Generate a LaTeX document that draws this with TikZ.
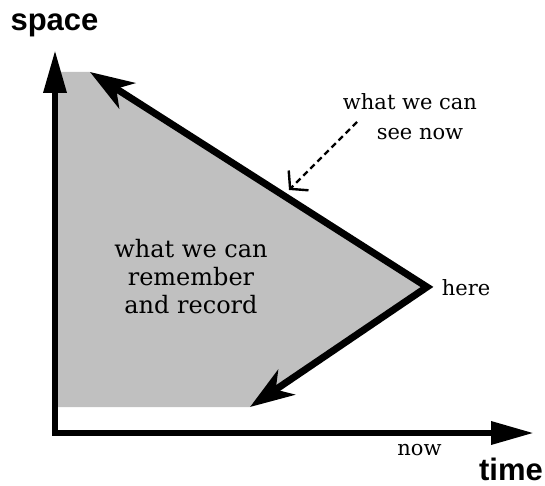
\documentclass[tikz,border=0pt]{standalone}
\usepackage{fontspec}
\setmainfont{DejaVu Serif}
\setsansfont{Liberation Sans}
\usetikzlibrary{arrows.meta}
\definecolor{regiongray}{RGB}{192,192,192}
\tikzset{
  axisline/.style={line width=6.5pt, line join=miter,
    {Triangle[length=43pt,width=22pt]}-{Triangle[length=43pt,width=22pt]}},
  coneline/.style={line width=7pt, line join=miter,
    {Stealth[length=44pt,width=30pt,inset=13pt]}-{Stealth[length=44pt,width=30pt,inset=13pt]}},
  pointer/.style={line width=2.4pt, dash pattern=on 6pt off 4pt,
    -{Straight Barb[length=12pt,width=28pt,line width=2.4pt,sharp]}},
  axislabel/.style={font=\sffamily\bfseries\fontsize{31}{36}\selectfont, inner sep=0pt, anchor=base},
  smalltext/.style={font=\fontsize{21}{30}\selectfont, inner sep=0pt, anchor=base},
  bigtext/.style={font=\fontsize{24}{28}\selectfont, inner sep=0pt, anchor=base, align=center}
}
\begin{document}
\begin{tikzpicture}[x=1pt,y=-1pt]
\useasboundingbox (0,0) rectangle (545,486);
% coordinates
\coordinate (ytip) at (55,50);
\coordinate (O) at (55,433);
\coordinate (xtip) at (534,433);
\coordinate (tl) at (90,72);
\coordinate (apex) at (427,287);
\coordinate (bl) at (250,407);
\coordinate (ds) at (357,122);
\coordinate (dt) at (289,190);
% shaded region
\fill[regiongray] (55,72) -- (tl) -- (apex) -- (bl) -- (55,407) -- cycle;
% axes
\draw[axisline] (ytip) -- (O) -- (xtip);
% light cone edges
\draw[coneline] (tl) -- (apex) -- (bl);
% pointer
\draw[pointer] (ds) -- (dt);
% labels
\node[axislabel] (space) at (54.5,31) {space};
\node[axislabel] (time) at (511,480) {time};
\node[smalltext] (here) at (466,295) {here};
\node[smalltext] (now) at (419.5,455) {now};
\node[smalltext] (see1) at (410,110) {what we can};
\node[smalltext] (see2) at (420,140) {see now};
\node[bigtext] (mem) at (191,313) {what we can\\remember\\and record};
\end{tikzpicture}
\end{document}
